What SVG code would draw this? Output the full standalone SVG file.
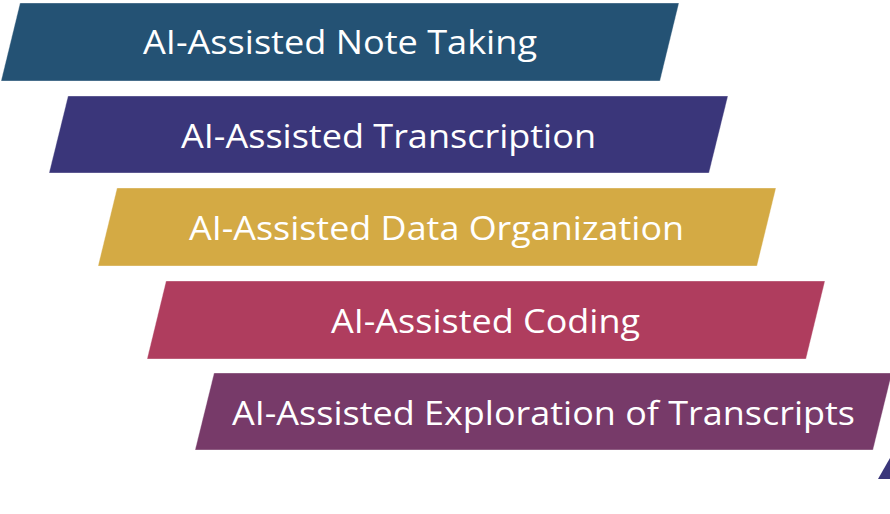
<svg xmlns="http://www.w3.org/2000/svg" width="890" height="514" viewBox="0 0 890 514">
<style>
.band{stroke:#ffffff;stroke-opacity:0.35;stroke-width:1}
.lbl{font-family:"Open Sans","Liberation Sans",sans-serif;font-size:33px;fill:#ffffff;text-anchor:middle}
</style>
<rect width="890" height="514" fill="#ffffff"/>
<g id="node1">
<polygon class="band" points="20,3 679,3 660,81 1,81" fill="#245274"/>
<text class="lbl" x="340" y="54" textLength="394" lengthAdjust="spacingAndGlyphs">AI-Assisted Note Taking</text>
</g>
<g id="node2">
<polygon class="band" points="68,96 728,96 709,173 49,173" fill="#3a367a"/>
<text class="lbl" x="388.5" y="148" textLength="415" lengthAdjust="spacingAndGlyphs">AI-Assisted Transcription</text>
</g>
<g id="node3">
<polygon class="band" points="117,188 776,188 757,266 98,266" fill="#d4aa44"/>
<text class="lbl" x="436.5" y="240" textLength="495" lengthAdjust="spacingAndGlyphs">AI-Assisted Data Organization</text>
</g>
<g id="node4">
<polygon class="band" points="166,281 825,281 806,359 147,359" fill="#af3d5e"/>
<text class="lbl" x="485.5" y="333" textLength="309" lengthAdjust="spacingAndGlyphs">AI-Assisted Coding</text>
</g>
<g id="node5">
<polygon class="band" points="214,373 892,373 873,450 195,450" fill="#773a69"/>
<text class="lbl" x="543.5" y="425" textLength="623" lengthAdjust="spacingAndGlyphs">AI-Assisted Exploration of Transcripts</text>
</g>
<g id="node6">
<polygon points="890,458 891,479 878,479" fill="#3a367a"/>
</g>
<g id="connectors"></g>
</svg>
